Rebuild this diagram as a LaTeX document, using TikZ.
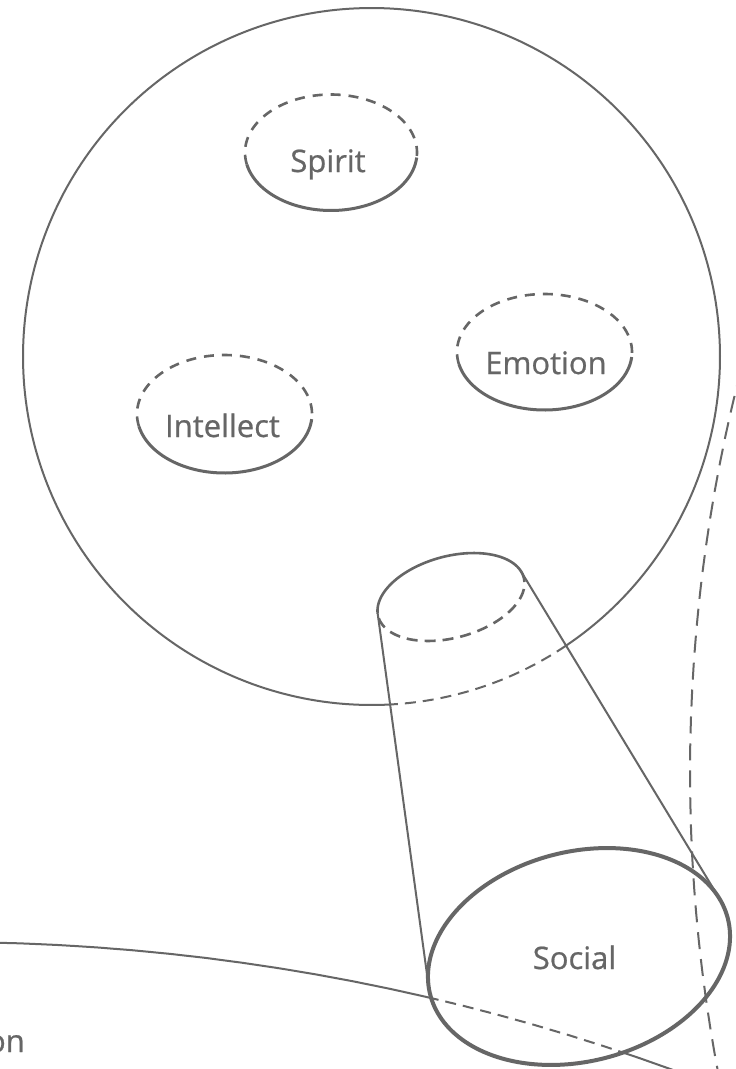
\documentclass[tikz,border=0pt]{standalone}
\usepackage{fontspec}
\setmainfont{Open Sans}
\newfontfamily\lblfont{Open Sans}[FakeBold=0.7]
\definecolor{ink}{HTML}{666666}
\tikzset{
  solidthin/.style={draw=ink, line width=2pt},
  hidthin/.style={draw=ink, line width=2pt, dash pattern=on 11pt off 7pt},
  hidlong/.style={draw=ink, line width=2pt, dash pattern=on 17pt off 10pt},
  ringsolid/.style={draw=ink, line width=3pt},
  ringhid/.style={draw=ink, line width=2.6pt, dash pattern=on 10pt off 8pt},
  capsolid/.style={draw=ink, line width=2.6pt},
  caphid/.style={draw=ink, line width=2.6pt, dash pattern=on 11pt off 7pt},
  social/.style={draw=ink, line width=4pt},
  lbl/.style={text=ink, font=\lblfont\fontsize{31}{37}\selectfont, inner sep=0pt, anchor=base}
}
\begin{document}
\begin{tikzpicture}[x=1pt,y=-1pt]
\useasboundingbox (0,0) rectangle (736,1069);
\clip (0,0) rectangle (736,1069);
\fill[white] (0,0) rectangle (736,1069);

% big circle: solid except between the cylinder lines
\draw[solidthin] plot[domain=86.94:416.06, samples=300, variable=\t] ({371.5+348.5*cos(\t)}, {356.5+348.5*sin(\t)});
\draw[hidthin] plot[domain=56.06:86.94, samples=60, variable=\t] ({371.5+348.5*cos(\t)}, {356.5+348.5*sin(\t)});

% inner rings
\draw[ringsolid] plot[domain=5:168, samples=90, variable=\t] ({331+86*cos(\t)}, {152.5+58*sin(\t)});
\draw[ringhid] plot[domain=168:365, samples=110, variable=\t] ({331+86*cos(\t)}, {152.5+58*sin(\t)});
\node[lbl] (spirit) at (328,172) {Spirit};

\draw[ringsolid] plot[domain=5:168, samples=90, variable=\t] ({544.5+87.5*cos(\t)}, {352+58*sin(\t)});
\draw[ringhid] plot[domain=168:365, samples=110, variable=\t] ({544.5+87.5*cos(\t)}, {352+58*sin(\t)});
\node[lbl] (emotion) at (546,374) {Emotion};

\draw[ringsolid] plot[domain=5:168, samples=90, variable=\t] ({224.5+87.5*cos(\t)}, {414+59*sin(\t)});
\draw[ringhid] plot[domain=168:365, samples=110, variable=\t] ({224.5+87.5*cos(\t)}, {414+59*sin(\t)});
\node[lbl] (intellect) at (222.5,437) {Intellect};

% bottom large curve (solid part)
\draw[solidthin] plot[domain=-90:-68, samples=120, variable=\t] ({-54+2130*cos(\t)}, {3072+2130*sin(\t)});
\node[lbl, anchor=base east] (onlbl) at (25,1052) {on};

% cylinder top ellipse
\draw[capsolid] plot[domain=-176.08:-8.96, samples=100, variable=\t] ({451+72.73*cos(\t)+10.56*sin(\t)}, {597-19.49*cos(\t)+39.41*sin(\t)});
\draw[caphid] plot[domain=-8.96:183.92, samples=100, variable=\t] ({451+72.73*cos(\t)+10.56*sin(\t)}, {597-19.49*cos(\t)+39.41*sin(\t)});

% cylinder sides
\coordinate (tl) at (377.7,613.7);
\coordinate (tr) at (521.2,571.6);
\coordinate (bl) at (428.6,986.0);
\coordinate (br) at (719.5,898.7);
\draw[solidthin] (tl) -- (bl);
\draw[solidthin] (tr) -- (br);

% social ellipse: hide what is behind
\fill[white] plot[domain=0:360, samples=180, variable=\t] ({579+148.78*cos(\t)+26.06*sin(\t)}, {956.5-38.20*cos(\t)+101.51*sin(\t)}) -- cycle;
\begin{scope}
\clip plot[domain=0:360, samples=180, variable=\t] ({579+148.78*cos(\t)+26.06*sin(\t)}, {956.5-38.20*cos(\t)+101.51*sin(\t)}) -- cycle;
\draw[hidthin] plot[domain=-90:-68, samples=120, variable=\t] ({-54+2130*cos(\t)}, {3072+2130*sin(\t)});
\end{scope}

% right dashed large arc
\draw[hidlong] plot[domain=168:196, samples=150, variable=\t] ({2308+1618*cos(\t)}, {772.6+1618*sin(\t)});

% social ellipse outline
\draw[social] plot[domain=0:360, samples=180, variable=\t] ({579+148.78*cos(\t)+26.06*sin(\t)}, {956.5-38.20*cos(\t)+101.51*sin(\t)}) -- cycle;
\node[lbl] (social) at (574.5,969) {Social};
\end{tikzpicture}
\end{document}
